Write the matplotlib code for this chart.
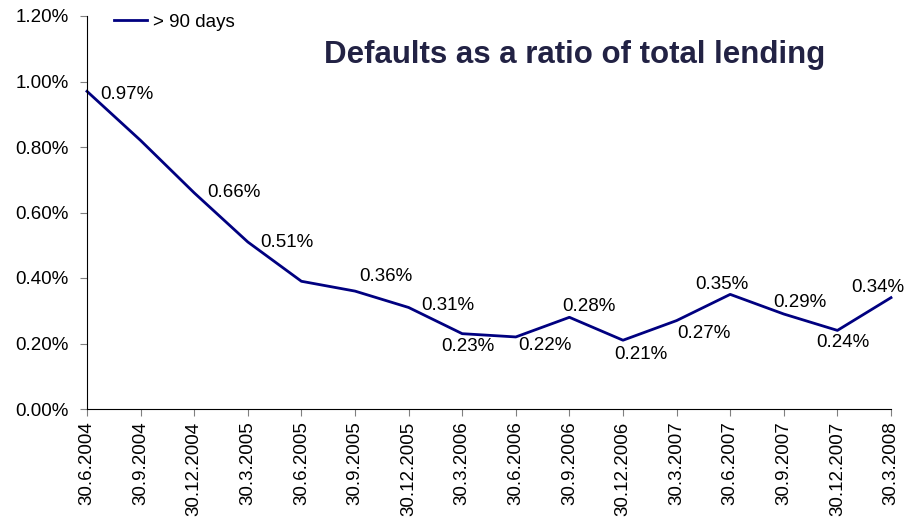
import matplotlib
matplotlib.use("Agg")
import matplotlib.pyplot as plt
from matplotlib.ticker import FuncFormatter

plt.rcParams['font.family'] = ['Liberation Sans', 'DejaVu Sans']

dates = ["30.6.2004", "30.9.2004", "30.12.2004", "30.3.2005", "30.6.2005",
         "30.9.2005", "30.12.2005", "30.3.2006", "30.6.2006", "30.9.2006",
         "30.12.2006", "30.3.2007", "30.6.2007", "30.9.2007", "30.12.2007",
         "30.3.2008"]
values = [0.97, 0.82, 0.66, 0.51, 0.39, 0.36, 0.31, 0.23, 0.22, 0.28,
          0.21, 0.27, 0.35, 0.29, 0.24, 0.34]
labeled = [True, False, True, True, False, True, True, True, True, True,
           True, True, True, True, True, True]
# label offsets in pixels (dx, dy up)
offsets = [(40, -3), (0, 0), (40, 0), (39, -1), (0, 0), (31, 15), (39, 2),
           (6, -13), (29, -9), (20, 11), (18, -14), (27, -13), (-8, 10),
           (16, 12), (5, -12), (-13, 10)]
series_name = "> 90 days"
title = "Defaults as a ratio of total lending"
yticks = [0.0, 0.2, 0.4, 0.6, 0.8, 1.0, 1.2]

FS = 13.5

fig = plt.figure(figsize=(9.06, 5.2), dpi=100)
ax = fig.add_axes([87/906, 1-409/520, (891-87)/906, (409-16)/520])

x = list(range(len(dates)))
line, = ax.plot(x, values, color='#000080', lw=2, label=series_name, clip_on=False)

for xi, v, show, (dx, dy) in zip(x, values, labeled, offsets):
    if show:
        ax.annotate(f"{v:.2f}%", (xi, v), xytext=(dx, dy), textcoords='offset pixels',
                    ha='center', va='center', fontsize=FS, color='black')

ax.set_xlim(0, len(dates) - 1)
ax.set_ylim(0, 1.2)
ax.set_yticks(yticks)
ax.yaxis.set_major_formatter(FuncFormatter(lambda v, p: f"{v:.2f}%"))
ax.set_xticks(x)
ax.set_xticklabels(dates, rotation=90, fontsize=FS)
ax.tick_params(axis='y', labelsize=FS, direction='out', length=5, color='#808080', pad=8)
ax.tick_params(axis='x', direction='out', length=5, color='#808080', pad=4)
for s in ['top', 'right']:
    ax.spines[s].set_visible(False)
ax.spines['left'].set_color('black')
ax.spines['bottom'].set_color('black')

ax.legend(handles=[line], loc='center left', bbox_to_anchor=(114/906, 1-22/520),
          bbox_transform=fig.transFigure, borderpad=0, borderaxespad=0,
          frameon=False, fontsize=FS, handlelength=1.75, handletextpad=0.35)

fig.text(575/906, 1-55/520, title, fontsize=22.5, fontweight='bold',
         color='#222244', ha='center', va='center')

fig.savefig("out.png", dpi=100)
